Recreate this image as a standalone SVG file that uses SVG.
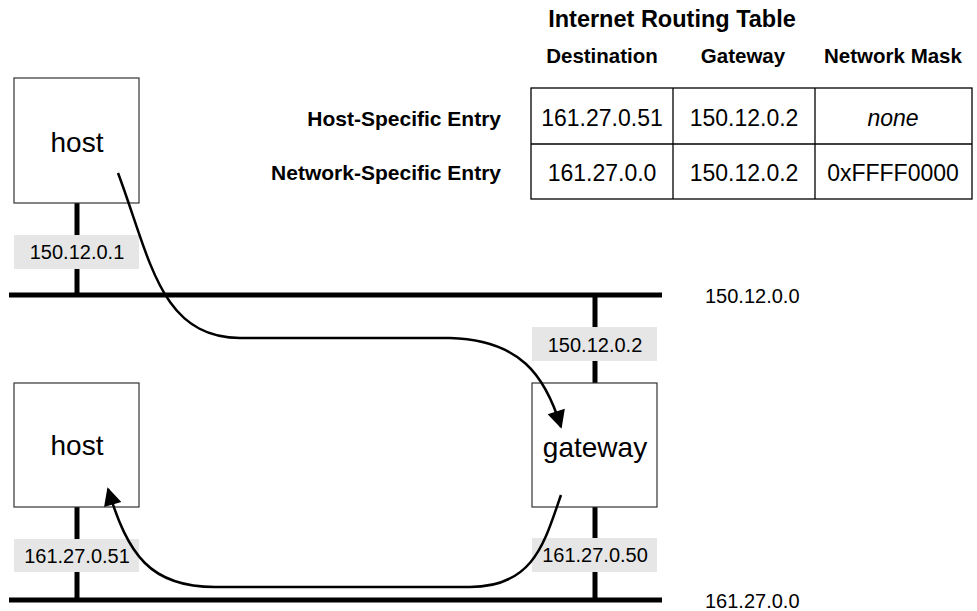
<svg xmlns="http://www.w3.org/2000/svg" width="977" height="611" viewBox="0 0 977 611">
<defs>
<style>
text{font-family:"Liberation Sans",Arial,sans-serif;fill:#000}
.box{fill:#fff;stroke:#333;stroke-width:1.2}
.bus{stroke:#000;stroke-width:5}
.drop{stroke:#000;stroke-width:5}
.lbl{fill:#e6e6e6}
.lt{font-size:20px;text-anchor:middle}
.nt{font-size:28px;text-anchor:middle}
.hd{font-size:20.5px;font-weight:bold;text-anchor:middle}
.rl{font-size:21px;font-weight:bold;text-anchor:end}
.cell{font-size:23px;text-anchor:middle}
.tbl{fill:#fff;stroke:#000;stroke-width:1.3}
.arrow{fill:none;stroke:#000;stroke-width:2.5;marker-end:url(#ah)}
</style>
<marker id="ah" viewBox="0 0 10 10" refX="9" refY="5" markerUnits="userSpaceOnUse" markerWidth="22" markerHeight="18" orient="auto">
<path d="M0,0 L10,5 L0,10 z" fill="#000"/>
</marker>
</defs>

<g id="network-150">
<line class="bus" x1="9" y1="295" x2="662" y2="295"/>
<text x="705" y="303" style="font-size:20px">150.12.0.0</text>
</g>
<g id="network-161">
<line class="bus" x1="9" y1="600" x2="662" y2="600"/>
<text x="705" y="608" style="font-size:20px">161.27.0.0</text>
</g>

<g id="host1">
<line class="drop" x1="77" y1="203" x2="77" y2="295"/>
<rect class="box" x="14" y="78" width="125" height="125"/>
<text class="nt" x="77" y="152">host</text>
<rect class="lbl" x="14" y="235" width="125" height="34"/>
<text class="lt" x="77" y="259">150.12.0.1</text>
</g>

<g id="host2">
<line class="drop" x1="77" y1="507" x2="77" y2="600"/>
<rect class="box" x="14" y="383" width="125" height="124"/>
<text class="nt" x="77" y="455">host</text>
<rect class="lbl" x="14" y="539" width="125" height="33"/>
<text class="lt" x="77" y="563">161.27.0.51</text>
</g>

<g id="gateway">
<line class="drop" x1="595" y1="295" x2="595" y2="600"/>
<rect class="box" x="532" y="383" width="125" height="124"/>
<text class="nt" x="595" y="457">gateway</text>
<rect class="lbl" x="532" y="327" width="125" height="34"/>
<text class="lt" x="595" y="352">150.12.0.2</text>
<rect class="lbl" x="532" y="538" width="125" height="34"/>
<text class="lt" x="595" y="562">161.27.0.50</text>
</g>

<g id="routing-table">
<text x="672" y="27" style="font-size:23.5px;font-weight:bold;text-anchor:middle">Internet Routing Table</text>
<text class="hd" x="602" y="63">Destination</text>
<text class="hd" x="743" y="63">Gateway</text>
<text class="hd" x="893" y="63">Network Mask</text>
<text class="rl" x="501" y="126">Host-Specific Entry</text>
<text class="rl" x="501" y="180">Network-Specific Entry</text>
<rect class="tbl" x="531" y="88" width="441" height="111"/>
<line stroke="#000" stroke-width="1.3" x1="531" y1="144" x2="972" y2="144"/>
<line stroke="#000" stroke-width="1.3" x1="673" y1="88" x2="673" y2="199"/>
<line stroke="#000" stroke-width="1.3" x1="815" y1="88" x2="815" y2="199"/>
<text class="cell" x="602" y="126">161.27.0.51</text>
<text class="cell" x="744" y="126">150.12.0.2</text>
<text class="cell" x="893" y="126" font-style="italic">none</text>
<text class="cell" x="602" y="181">161.27.0.0</text>
<text class="cell" x="744" y="181">150.12.0.2</text>
<text class="cell" x="893" y="181">0xFFFF0000</text>
</g>

<g id="connectors">
<path class="arrow" d="M118,173 C150,258 160,338 240,338 L450,338 C520,340 545,375 561,427"/>
<path class="arrow" d="M561,495 C545,540 535,587 470,587 L215,587 C150,587 128,555 108,489"/>
</g>
</svg>
